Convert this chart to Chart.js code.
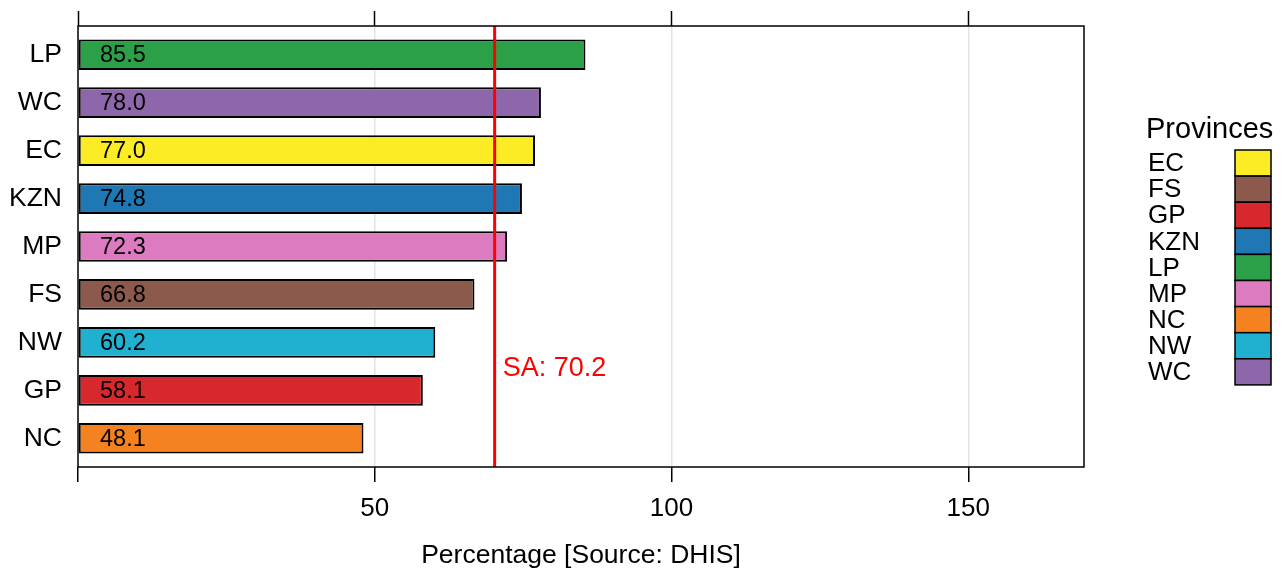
<!DOCTYPE html>
<html>
<head>
<meta charset="utf-8">
<script src="https://cdn.jsdelivr.net/npm/chart.js@4/dist/chart.umd.min.js"></script>
<style>
  html, body { margin: 0; padding: 0; background: #fff; }
  #wrap { width: 1282px; height: 575px; position: relative; }
</style>
</head>
<body>
<div id="wrap"><canvas id="barChart"></canvas></div>
<script>
// provinces from top to bottom, with their values
const provinces = ['LP', 'WC', 'EC', 'KZN', 'MP', 'FS', 'NW', 'GP', 'NC'];
const percentages = [85.5, 78.0, 77.0, 74.8, 72.3, 66.8, 60.2, 58.1, 48.1];
const provinceColors = ['#2ca048', '#8e67aa', '#fbec26', '#1f77b4', '#dd7bc0', '#8c5a4c', '#20b0d0', '#d7282d', '#f58220'];
const saAverage = 70.2;
const saLabel = 'SA: 70.2';
const xTicks = [0, 50, 100, 150];
const axisTitle = 'Percentage [Source: DHIS]';
const legendTitle = 'Provinces';

// y positions: NC at 1 ... LP at 9
const positions = provinces.map((p, i) => provinces.length - i);
const legendNames = provinces.slice().sort();

Chart.defaults.font.family = '"Liberation Sans", Arial, Helvetica, sans-serif';
Chart.defaults.color = '#000';

const fontStack = '"Liberation Sans", Arial, Helvetica, sans-serif';

// draws the value labels, the SA line, the box and the legend
const extras = {
    id: 'extras',
    afterDatasetsDraw(chart) {
        const ctx = chart.ctx;
        const area = chart.chartArea;
        const xScale = chart.scales.x;
        const yScale = chart.scales.y;
        const meta = chart.getDatasetMeta(0);

        // value labels inside the bars
        ctx.save();
        ctx.font = '23.5px ' + fontStack;
        ctx.fillStyle = '#000';
        ctx.textAlign = 'left';
        ctx.textBaseline = 'middle';
        meta.data.forEach(function(bar, i) {
            ctx.fillText(percentages[i].toFixed(1), xScale.getPixelForValue(0) + 22, bar.y + 1);
        });
        ctx.restore();

        // SA reference line
        const sx = xScale.getPixelForValue(saAverage);
        ctx.save();
        ctx.strokeStyle = '#ff0000';
        ctx.lineWidth = 3;
        ctx.beginPath();
        ctx.moveTo(sx, area.top);
        ctx.lineTo(sx, area.bottom);
        ctx.stroke();
        ctx.font = '27px ' + fontStack;
        ctx.fillStyle = '#ff0000';
        ctx.textBaseline = 'middle';
        ctx.fillText(saLabel, sx + 8, yScale.getPixelForValue(2.5) + 2);
        ctx.restore();

        // plot box
        ctx.save();
        ctx.strokeStyle = '#000';
        ctx.lineWidth = 1.5;
        ctx.strokeRect(area.left, area.top, area.right - area.left, area.bottom - area.top);
        ctx.restore();

        // legend on the right
        ctx.save();
        ctx.fillStyle = '#000';
        ctx.textBaseline = 'middle';
        ctx.font = '29px ' + fontStack;
        ctx.fillText(legendTitle, 1146, 130);
        ctx.font = '26px ' + fontStack;
        const boxH = 26.1;
        legendNames.forEach(function(name, i) {
            const top = 150 + i * boxH;
            const c = provinceColors[provinces.indexOf(name)];
            ctx.fillStyle = c;
            ctx.fillRect(1235, top, 36, boxH);
            ctx.strokeStyle = '#000';
            ctx.lineWidth = 1.5;
            ctx.strokeRect(1235, top, 36, boxH);
            ctx.fillStyle = '#000';
            ctx.fillText(name, 1148, top + boxH / 2 + 1);
        });
        ctx.restore();
    }
};

const ctx = document.getElementById('barChart').getContext('2d');
const myChart = new Chart(ctx, {
    type: 'bar',
    data: {
        datasets: [{
            data: percentages.map((v, i) => ({ x: v, y: positions[i] })),
            backgroundColor: provinceColors,
            borderColor: '#000',
            borderWidth: 2,
            borderSkipped: false,
            barPercentage: 0.64,
            categoryPercentage: 1.0
        }]
    },
    options: {
        indexAxis: 'y',
        responsive: true,
        maintainAspectRatio: false,
        animation: false,
        devicePixelRatio: 1,
        layout: { padding: { left: 0, right: 198, top: 0, bottom: 0 } },
        plugins: {
            legend: { display: false },
            tooltip: { enabled: false }
        },
        scales: {
            x: {
                type: 'linear',
                position: 'bottom',
                min: 0,
                max: 169.5,
                afterBuildTicks: function(scale) {
                    scale.ticks = xTicks.map(v => ({ value: v }));
                },
                afterFit: function(scale) { scale.height = 108; },
                border: { display: false },
                grid: {
                    color: c => (c.tick && c.tick.value === 0) ? 'rgba(0,0,0,0)' : '#e3e3e3',
                    lineWidth: 1.5,
                    tickColor: '#000',
                    tickLength: 15,
                    tickWidth: 1.5
                },
                ticks: {
                    font: { size: 26 },
                    color: '#000',
                    padding: 11,
                    maxRotation: 0,
                    callback: v => v === 0 ? '' : String(v)
                },
                title: {
                    display: true,
                    text: axisTitle,
                    font: { size: 26.5 },
                    color: '#000',
                    padding: { top: 4, bottom: 3 }
                }
            },
            x2: {
                type: 'linear',
                position: 'top',
                min: 0,
                max: 169.5,
                afterBuildTicks: function(scale) {
                    scale.ticks = xTicks.map(v => ({ value: v }));
                },
                afterFit: function(scale) { scale.height = 26; },
                border: { display: false },
                grid: {
                    drawOnChartArea: false,
                    tickColor: '#000',
                    tickLength: 15,
                    tickWidth: 1.5
                },
                ticks: { display: false }
            },
            y: {
                type: 'linear',
                offset: false,
                min: 0.4,
                max: 9.6,
                afterBuildTicks: function(scale) {
                    scale.ticks = positions.map(v => ({ value: v }));
                },
                afterFit: function(scale) {
                    scale.width = 78;
                    scale.paddingTop = 0;
                    scale.paddingBottom = 0;
                },
                border: { display: false },
                grid: { display: false, drawTicks: false, offset: false },
                ticks: {
                    font: { size: 26.5 },
                    color: '#000',
                    padding: 16,
                    callback: v => provinces[positions.indexOf(v)] || ''
                }
            }
        }
    },
    plugins: [extras]
});
</script>
</body>
</html>
